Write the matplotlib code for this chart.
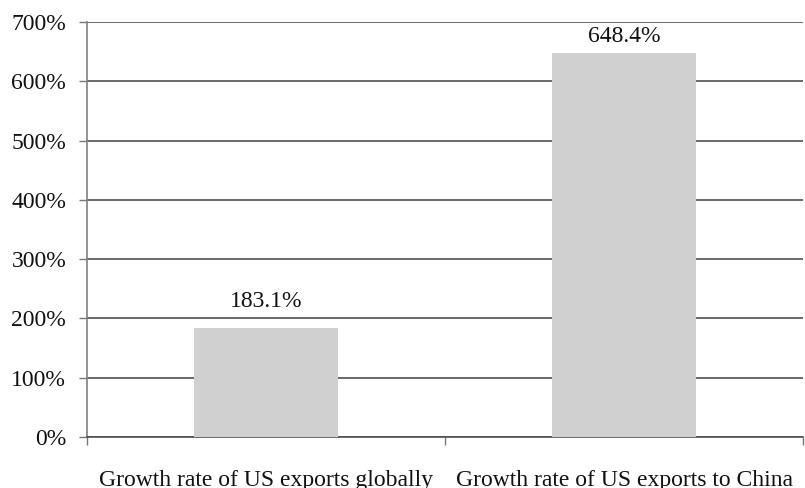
import matplotlib
matplotlib.use("Agg")
import matplotlib.pyplot as plt
from matplotlib.ticker import FuncFormatter, MultipleLocator

categories = ["Growth rate of US exports globally", "Growth rate of US exports to China"]
values = [183.1, 648.4]
labels = ["183.1%", "648.4%"]

plt.rcParams['font.family'] = ['Liberation Serif', 'DejaVu Serif']

fig = plt.figure(figsize=(8.05, 4.88), dpi=100)
ax = fig.add_axes([87/805, (488-437)/488, (803-87)/805, (437-22)/488])

x = [0, 1]
ax.bar(x, values, width=0.4, color="#d0d0d0", zorder=3)
label_gaps = [12, 4]  # points above bar top
for xi, v, lab, g in zip(x, values, labels, label_gaps):
    ax.annotate(lab, (xi, v), xytext=(0, g), textcoords="offset points",
                ha="center", va="bottom", fontsize=17, color="#111111", zorder=4)

ax.set_xlim(-0.5, 1.5)
ax.set_ylim(0, 700)
ax.yaxis.set_major_locator(MultipleLocator(100))
ax.yaxis.set_major_formatter(FuncFormatter(lambda v, p: f"{int(round(v))}%"))
ax.yaxis.grid(True, color="#505050", linewidth=1.2, zorder=0)
ax.set_axisbelow(True)

ax.set_xticks([-0.5, 0.5, 1.5], minor=False)
ax.set_xticklabels([])
ax.set_xticks([0, 1], minor=True)
ax.set_xticklabels(categories, minor=True, fontsize=17)
ax.tick_params(axis="x", which="minor", length=0, pad=24)
ax.tick_params(axis="x", which="major", length=6, color="#777777", width=1)
ax.tick_params(axis="y", length=6, color="#777777", width=1, labelsize=17, pad=9,
               labelcolor="#111111")
ax.tick_params(axis="x", which="minor", labelcolor="#111111")

for s in ["top", "right"]:
    ax.spines[s].set_visible(False)
ax.spines["left"].set_color("#808080")
ax.spines["bottom"].set_color("#505050")
ax.spines["left"].set_linewidth(1.2)
ax.spines["bottom"].set_linewidth(1.2)

fig.savefig("out.png", dpi=100)
